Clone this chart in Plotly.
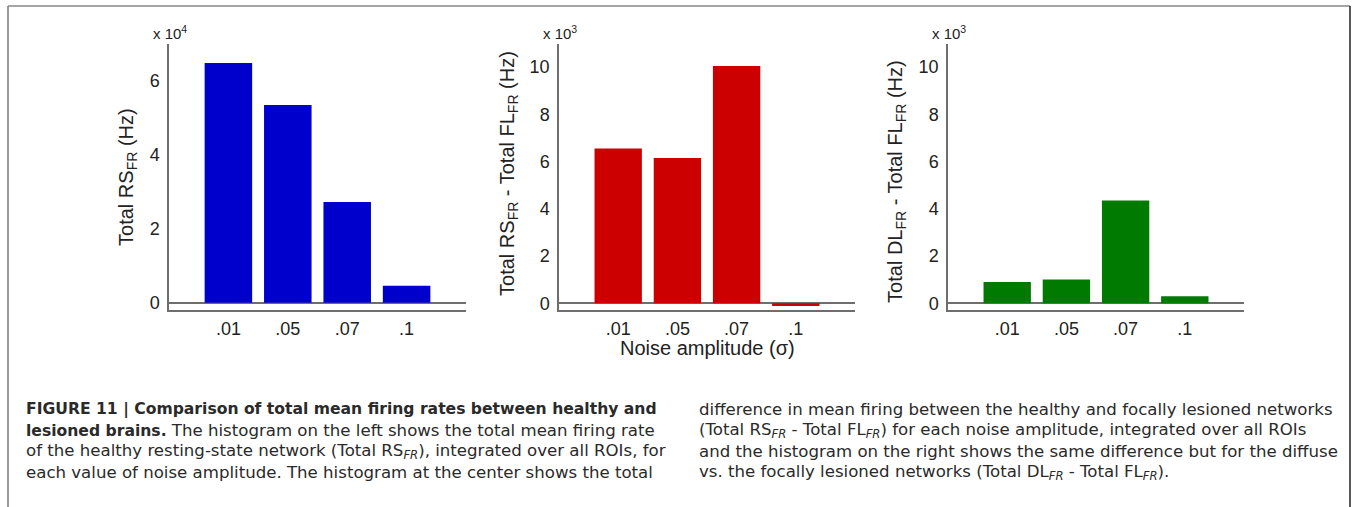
import plotly.graph_objects as go

W, H = 1356, 507

# ---------------- data ----------------
noise_levels = [".01", ".05", ".07", ".1"]
total_rs_fr = [64900, 53500, 27300, 4600]          # Hz
rs_minus_fl = [6550, 6150, 10050, -120]            # Hz
dl_minus_fl = [900, 1000, 4350, 290]               # Hz

left_ticks = [0, 20000, 40000, 60000]
left_ticktext = ["0", "2", "4", "6"]
diff_ticks = [0, 2000, 4000, 6000, 8000, 10000]
diff_ticktext = ["0", "2", "4", "6", "8", "10"]

ylabels = [
    "Total RS<sub>FR</sub> (Hz)",
    "Total RS<sub>FR</sub> - Total FL<sub>FR</sub> (Hz)",
    "Total DL<sub>FR</sub> - Total FL<sub>FR</sub> (Hz)",
]
multipliers = ["x 10<sup>4</sup>", "x 10<sup>3</sup>", "x 10<sup>3</sup>"]
xlabel = "Noise amplitude (σ)"

B0 = '<span style="font-size:15.6px"><b>'
B1 = '</b></span>'
caption_left = [
    B0 + "FIGURE 11 | Comparison of total mean firing rates between healthy and" + B1,
    B0 + "lesioned brains." + B1 + " The histogram on the left shows the total mean firing rate",
    "of the healthy resting-state network (Total RS<sub><i>FR</i></sub>), integrated over all ROIs, for",
    "each value of noise amplitude. The histogram at the center shows the total",
]
caption_right = [
    "difference in mean firing between the healthy and focally lesioned networks",
    "(Total RS<sub><i>FR</i></sub> - Total FL<sub><i>FR</i></sub>) for each noise amplitude, integrated over all ROIs",
    "and the histogram on the right shows the same difference but for the diffuse",
    "vs. the focally lesioned networks (Total DL<sub><i>FR</i></sub> - Total FL<sub><i>FR</i></sub>).",
]

# ---------------- helpers ----------------
def px(x):
    return x / W

def py(y):
    return 1 - y / H

FONT = "Liberation Sans, Arial, Helvetica, sans-serif"
CAPFONT = "DejaVu Sans, Verdana, sans-serif"
AXC = "#6e6e6e"
TXT = "#222222"

panels = [
    dict(vals=total_rs_fr, color="#0000CC", x0=169, x1=466, yr=[-2000, 70100],
         tv=left_ticks, tt=left_ticktext, ylab_x=128, ylab_y=178),
    dict(vals=rs_minus_fl, color="#CC0000", x0=559, x1=855, yr=[-295, 10990],
         tv=diff_ticks, tt=diff_ticktext, ylab_x=509, ylab_y=175),
    dict(vals=dl_minus_fl, color="#007A00", x0=948, x1=1244, yr=[-295, 10990],
         tv=diff_ticks, tt=diff_ticktext, ylab_x=897, ylab_y=183),
]

fig = go.Figure()
layout = dict(
    width=W, height=H,
    margin=dict(l=0, r=0, t=0, b=0),
    paper_bgcolor="white", plot_bgcolor="white",
    showlegend=False,
    font=dict(family=FONT, color=TXT),
)
annotations = []
shapes = []

y_top, y_bot = 44, 312

for i, p in enumerate(panels):
    n = "" if i == 0 else str(i + 1)
    fig.add_trace(go.Bar(
        x=noise_levels, y=p["vals"], width=0.8,
        marker=dict(color=p["color"], line=dict(width=0)),
        xaxis="x" + n, yaxis="y" + n,
    ))
    layout["xaxis" + n] = dict(
        domain=[px(p["x0"]), px(p["x1"])], anchor="y" + n,
        type="category", range=[-1, 4],
        showline=True, linecolor=AXC, linewidth=1.5,
        showgrid=False, zeroline=False, ticks="",
        tickfont=dict(size=18, family=FONT, color=TXT),
        ticklabelstandoff=1,
    )
    layout["yaxis" + n] = dict(
        domain=[py(y_bot), py(y_top)], anchor="x" + n,
        range=p["yr"],
        showline=True, linecolor=AXC, linewidth=1.5,
        showgrid=False, zeroline=True, zerolinecolor=AXC, zerolinewidth=1.5,
        ticks="", tickvals=p["tv"], ticktext=p["tt"],
        tickfont=dict(size=18, family=FONT, color=TXT),
        ticklabelstandoff=4,
    )
    annotations.append(dict(
        text=ylabels[i], textangle=-90, showarrow=False,
        x=px(p["ylab_x"]), y=py(p["ylab_y"]), xref="paper", yref="paper",
        xanchor="center", yanchor="middle",
        font=dict(size=20, family=FONT, color=TXT),
    ))
    annotations.append(dict(
        text=multipliers[i], showarrow=False,
        x=px(p["x0"] - 18), y=py(33), xref="paper", yref="paper",
        xanchor="left", yanchor="middle",
        font=dict(size=15, family=FONT, color=TXT),
    ))

annotations.append(dict(
    text=xlabel, showarrow=False,
    x=px(707), y=py(350), xref="paper", yref="paper",
    xanchor="center", yanchor="middle",
    font=dict(size=20, family=FONT, color=TXT),
))

for k, line in enumerate(caption_left):
    annotations.append(dict(
        text=line, showarrow=False,
        x=px(24), y=py(412 + 21 * k), xref="paper", yref="paper",
        xanchor="left", yanchor="middle",
        font=dict(size=16.6, family=CAPFONT, color="#2a2a2a"),
    ))
for k, line in enumerate(caption_right):
    annotations.append(dict(
        text=line, showarrow=False,
        x=px(697), y=py(412 + 21 * k), xref="paper", yref="paper",
        xanchor="left", yanchor="middle",
        font=dict(size=16.6, family=CAPFONT, color="#2a2a2a"),
    ))

# figure frame
shapes.append(dict(type="line", xref="paper", yref="paper",
                   x0=px(8), x1=px(8), y0=py(6), y1=py(520),
                   line=dict(color="#777777", width=1.5)))
shapes.append(dict(type="line", xref="paper", yref="paper",
                   x0=px(8), x1=px(1350), y0=py(6), y1=py(6),
                   line=dict(color="#888888", width=1.5)))
shapes.append(dict(type="line", xref="paper", yref="paper",
                   x0=px(1350), x1=px(1350), y0=py(6), y1=py(520),
                   line=dict(color="#222222", width=1.5)))

layout["annotations"] = annotations
layout["shapes"] = shapes
fig.update_layout(**layout)
fig.write_html("out.html")
